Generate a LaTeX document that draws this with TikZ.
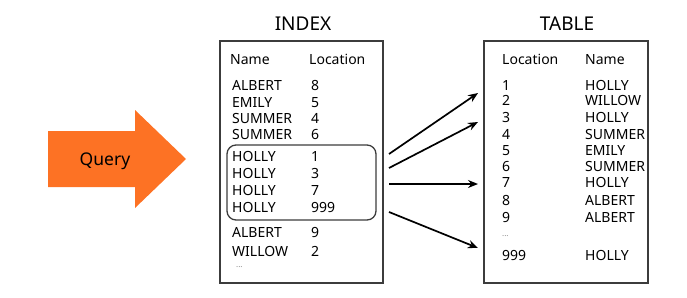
\documentclass[tikz,border=0pt]{standalone}
\usepackage{fontspec}
\setmainfont{Noto Sans}
\usetikzlibrary{arrows.meta}
\definecolor{qorange}{RGB}{253,114,36}
\definecolor{boxgray}{RGB}{60,60,60}
\tikzset{
  txt/.style={anchor=west,inner sep=0pt,font=\fontsize{14}{14}\selectfont,text height=10pt,text depth=0pt},
  ttl/.style={inner sep=0pt,font=\fontsize{19}{19}\selectfont,text height=13.6pt,text depth=0pt},
  dots/.style={anchor=west,inner sep=0pt,font=\fontsize{8}{8}\selectfont,text=gray},
  panel/.style={draw=boxgray,line width=1.8pt},
  grp/.style={draw=boxgray,line width=1.3pt,rounded corners=9pt},
  ptr/.style={line width=1.7pt,-{Stealth[length=10pt,width=8pt]}}
}
\begin{document}
\begin{tikzpicture}[x=1pt,y=-1pt]
\useasboundingbox (0,0) rectangle (687,297);
% Query arrow
\fill[qorange] (48,131) -- (135,131) -- (135,110) -- (186,159) -- (135,208) -- (135,187) -- (48,187) -- cycle;
\node[inner sep=0pt,font=\fontsize{17.5}{17.5}\selectfont,text height=12.5pt,text depth=0pt] (query) at (105,159) {Query};
% titles
\node[ttl] (indextitle) at (303,24) {INDEX};
\node[ttl] (tabletitle) at (567,24) {TABLE};
% panels
\draw[panel] (220,41) rectangle (383,283);
\draw[panel] (484,41) rectangle (648,283);
% index contents
\node[txt] (ih1) at (230,59) {Name};
\node[txt] (ih2) at (309,59) {Location};
\foreach \n/\v/\y [count=\i] in {ALBERT/8/85,EMILY/5/102,SUMMER/4/118,SUMMER/6/134,HOLLY/1/156,HOLLY/3/173,HOLLY/7/190,HOLLY/999/207,ALBERT/9/232,WILLOW/2/251}{
  \node[txt] (in\i) at (232,\y) {\n};
  \node[txt] (iv\i) at (311,\y) {\v};
}
\node[dots] (idots) at (236,267) {...};
\draw[grp] (227,145) rectangle (376,220);
% table contents
\node[txt] (th1) at (502,59) {Location};
\node[txt] (th2) at (585,59) {Name};
\foreach \v/\n/\y [count=\i] in {1/HOLLY/85,2/WILLOW/100,3/HOLLY/117,4/SUMMER/134,5/EMILY/150,6/SUMMER/166,7/HOLLY/182,8/ALBERT/200,9/ALBERT/217,999/HOLLY/255}{
  \node[txt] (tv\i) at (502,\y) {\v};
  \node[txt] (tn\i) at (585,\y) {\n};
}
\node[dots] (tdots) at (502,236) {...};
% pointer arrows
\coordinate (s1) at (389,154); \coordinate (e1) at (478,93);
\coordinate (s2) at (389,168); \coordinate (e2) at (478,122);
\coordinate (s3) at (389,184); \coordinate (e3) at (478,184);
\coordinate (s4) at (389,212); \coordinate (e4) at (478,248);
\draw[ptr] (s1) -- (e1);
\draw[ptr] (s2) -- (e2);
\draw[ptr] (s3) -- (e3);
\draw[ptr] (s4) -- (e4);
\end{tikzpicture}
\end{document}
